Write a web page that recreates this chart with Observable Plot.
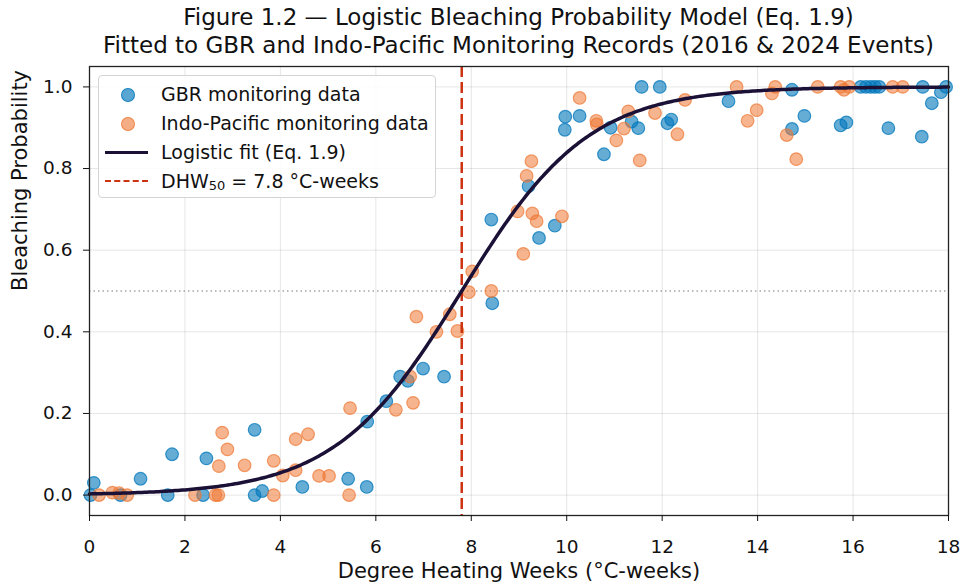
<!DOCTYPE html>
<html>
<head>
<meta charset="utf-8">
<script src="https://cdn.jsdelivr.net/npm/d3@7"></script>
<script src="https://cdn.jsdelivr.net/npm/@observablehq/plot@0.6"></script>
<style>
  html, body { margin: 0; padding: 0; background: #fff; }
  body { font-family: "DejaVu Sans", sans-serif; color: #111; }
  #wrap { position: relative; width: 965px; height: 584px; }
  #title { height: 62px; box-sizing: border-box; padding: 3px 17px 0 89px; text-align: center; font-size: 23px; line-height: 28px; color: #111; white-space: nowrap; }
  #legend { position: absolute; left: 98px; top: 75px; width: 338px; height: 123px; background: rgba(255,255,255,0.85); border: 1px solid #d4d4d4; border-radius: 4px; box-sizing: border-box; font-size: 19px; }
  .row { position: absolute; left: 0; height: 26px; width: 100%; }
  .lbl { position: absolute; left: 62px; top: 0px; white-space: nowrap; line-height: 24px; }
  .dot { position: absolute; left: 22px; top: 6px; width: 12px; height: 12px; border-radius: 50%; }
  .ln { position: absolute; left: 6px; top: 11px; width: 43px; height: 0; }
  sub { font-size: 13px; vertical-align: -2px; }
</style>
</head>
<body>
<div id="wrap">
  <div id="title">Figure 1.2 — Logistic Bleaching Probability Model (Eq. 1.9)<br>Fitted to GBR and Indo-Pacific Monitoring Records (2016 &amp; 2024 Events)</div>
  <div id="chart"></div>
  <div id="legend">
    <div class="row" style="top:6px"><div class="dot" style="background:rgba(0,119,187,0.65);border:1px solid rgba(0,119,187,0.8)"></div><div class="lbl">GBR monitoring data</div></div>
    <div class="row" style="top:35px"><div class="dot" style="background:rgba(238,119,51,0.6);border:1px solid rgba(238,119,51,0.75)"></div><div class="lbl">Indo-Pacific monitoring data</div></div>
    <div class="row" style="top:64px"><div class="ln" style="border-top:3px solid #1b1036"></div><div class="lbl">Logistic fit (Eq. 1.9)</div></div>
    <div class="row" style="top:93px"><div class="ln" style="border-top:2.5px dashed #cc3311"></div><div class="lbl">DHW<sub>50</sub> = 7.8 °C-weeks</div></div>
  </div>
</div>
<script>
// GBR monitoring data
const gbrX = [0.02, 0.09, 0.65, 1.07, 1.64, 1.73, 2.38, 2.45, 3.46, 3.46, 3.62, 4.46, 5.42, 5.81, 5.82,
  6.22, 6.51, 6.67, 6.99, 7.43, 8.42, 8.44, 9.20, 9.42, 9.75, 9.96, 9.97, 10.27, 10.78, 10.92,
  11.36, 11.50, 11.57, 11.95, 12.11, 12.19, 13.39, 14.72, 14.72, 14.98, 15.74, 15.86,
  16.16, 16.27, 16.37, 16.46, 16.55, 16.74, 17.44, 17.46, 17.65, 17.84, 17.95];
const gbrY = [0.00, 0.03, 0.00, 0.04, 0.00, 0.10, 0.00, 0.09, 0.16, 0.00, 0.01, 0.02, 0.04, 0.02, 0.18,
  0.23, 0.29, 0.28, 0.31, 0.29, 0.675, 0.47, 0.757, 0.63, 0.66, 0.895, 0.927, 0.929, 0.835, 0.90,
  0.915, 0.899, 1.00, 1.00, 0.911, 0.92, 0.965, 0.993, 0.897, 0.929, 0.906, 0.913,
  1.00, 1.00, 1.00, 1.00, 1.00, 0.899, 0.878, 1.00, 0.96, 0.987, 1.00];
// Indo-Pacific monitoring data
const ipX = [0.20, 0.48, 0.62, 0.79, 2.21, 2.64, 2.70, 2.71, 2.78, 2.89, 3.25, 3.86, 3.86, 4.05, 4.32, 4.32,
  4.58, 4.81, 5.02, 5.44, 5.46, 6.42, 6.72, 6.78, 6.85, 7.27, 7.55, 7.71, 7.95, 8.02, 8.42,
  8.97, 9.09, 9.16, 9.26, 9.28, 9.37, 9.90, 10.27, 10.62, 10.63, 11.04, 11.20, 11.29, 11.53,
  11.85, 12.32, 12.48, 13.56, 13.79, 13.98, 14.30, 14.37, 14.61, 14.81, 15.26, 15.74, 15.81,
  15.92, 16.83, 17.04];
const ipY = [0.00, 0.006, 0.005, 0.00, 0.00, 0.00, 0.00, 0.071, 0.153, 0.112, 0.073, 0.084, 0.00, 0.048, 0.137, 0.061,
  0.149, 0.047, 0.047, 0.00, 0.213, 0.209, 0.29, 0.226, 0.437, 0.40, 0.443, 0.402, 0.497, 0.548, 0.50,
  0.695, 0.591, 0.782, 0.818, 0.69, 0.671, 0.683, 0.973, 0.917, 0.908, 0.869, 0.898, 0.94, 0.82,
  0.936, 0.884, 0.968, 1.00, 0.917, 0.943, 0.984, 1.00, 0.882, 0.823, 1.00, 1.00, 0.993,
  1.00, 1.00, 1.00];
// Logistic model parameters (Eq. 1.9)
const dhw50 = 7.8;
const slopeK = 0.75;
const xTicks = [0, 2, 4, 6, 8, 10, 12, 14, 16, 18];
const yTicks = [0, 0.2, 0.4, 0.6, 0.8, 1.0];

const gbr = gbrX.map((x, i) => ({x, y: gbrY[i]}));
const ip = ipX.map((x, i) => ({x, y: ipY[i]}));
const fit = d3.range(0, 18.001, 0.05).map(x => ({x, y: 1 / (1 + Math.exp(-slopeK * (x - dhw50)))}));

const blue = "#0077bb", orange = "#ee7733";

const chart = Plot.plot({
  width: 965,
  height: 522,
  marginTop: 4,
  marginBottom: 69,
  marginLeft: 89,
  marginRight: 17,
  style: {fontFamily: "DejaVu Sans, sans-serif", fontSize: "18.5px", color: "#111", background: "#fff"},
  x: {domain: [0, 18], ticks: xTicks, label: null},
  y: {domain: [-0.05, 1.05], ticks: yTicks, tickFormat: ".1f", label: null},
  marks: [
    Plot.gridX(xTicks, {stroke: "#000", strokeOpacity: 0.1}),
    Plot.gridY(yTicks, {stroke: "#000", strokeOpacity: 0.1}),
    Plot.ruleY([0.5], {stroke: "#777", strokeWidth: 1, strokeDasharray: "1.5,3"}),
    Plot.dot(gbr, {x: "x", y: "y", r: 6.3, fill: blue, fillOpacity: 0.6, stroke: blue, strokeOpacity: 0.75, strokeWidth: 1.2}),
    Plot.dot(ip, {x: "x", y: "y", r: 6.3, fill: orange, fillOpacity: 0.55, stroke: orange, strokeOpacity: 0.7, strokeWidth: 1.2}),
    Plot.ruleX([dhw50], {stroke: "#cc3311", strokeWidth: 2.5, strokeDasharray: "11,5"}),
    Plot.line(fit, {x: "x", y: "y", stroke: "#1b1036", strokeWidth: 3.5}),
    Plot.frame({stroke: "#222", strokeWidth: 1.3}),
    Plot.axisX({ticks: xTicks, tickSize: 6, tickPadding: 18, fontSize: 18.5, label: null}),
    Plot.axisY({ticks: yTicks, tickSize: 6, tickPadding: 11, tickFormat: ".1f", fontSize: 18.5, label: null}),
    Plot.text(["Degree Heating Weeks (°C-weeks)"], {frameAnchor: "bottom", dy: 62, text: d => d, fontSize: 21}),
    Plot.text(["Bleaching Probability"], {frameAnchor: "left", dx: -69, rotate: -90, text: d => d, fontSize: 21})
  ]
});
document.getElementById("chart").appendChild(chart);
</script>
</body>
</html>
